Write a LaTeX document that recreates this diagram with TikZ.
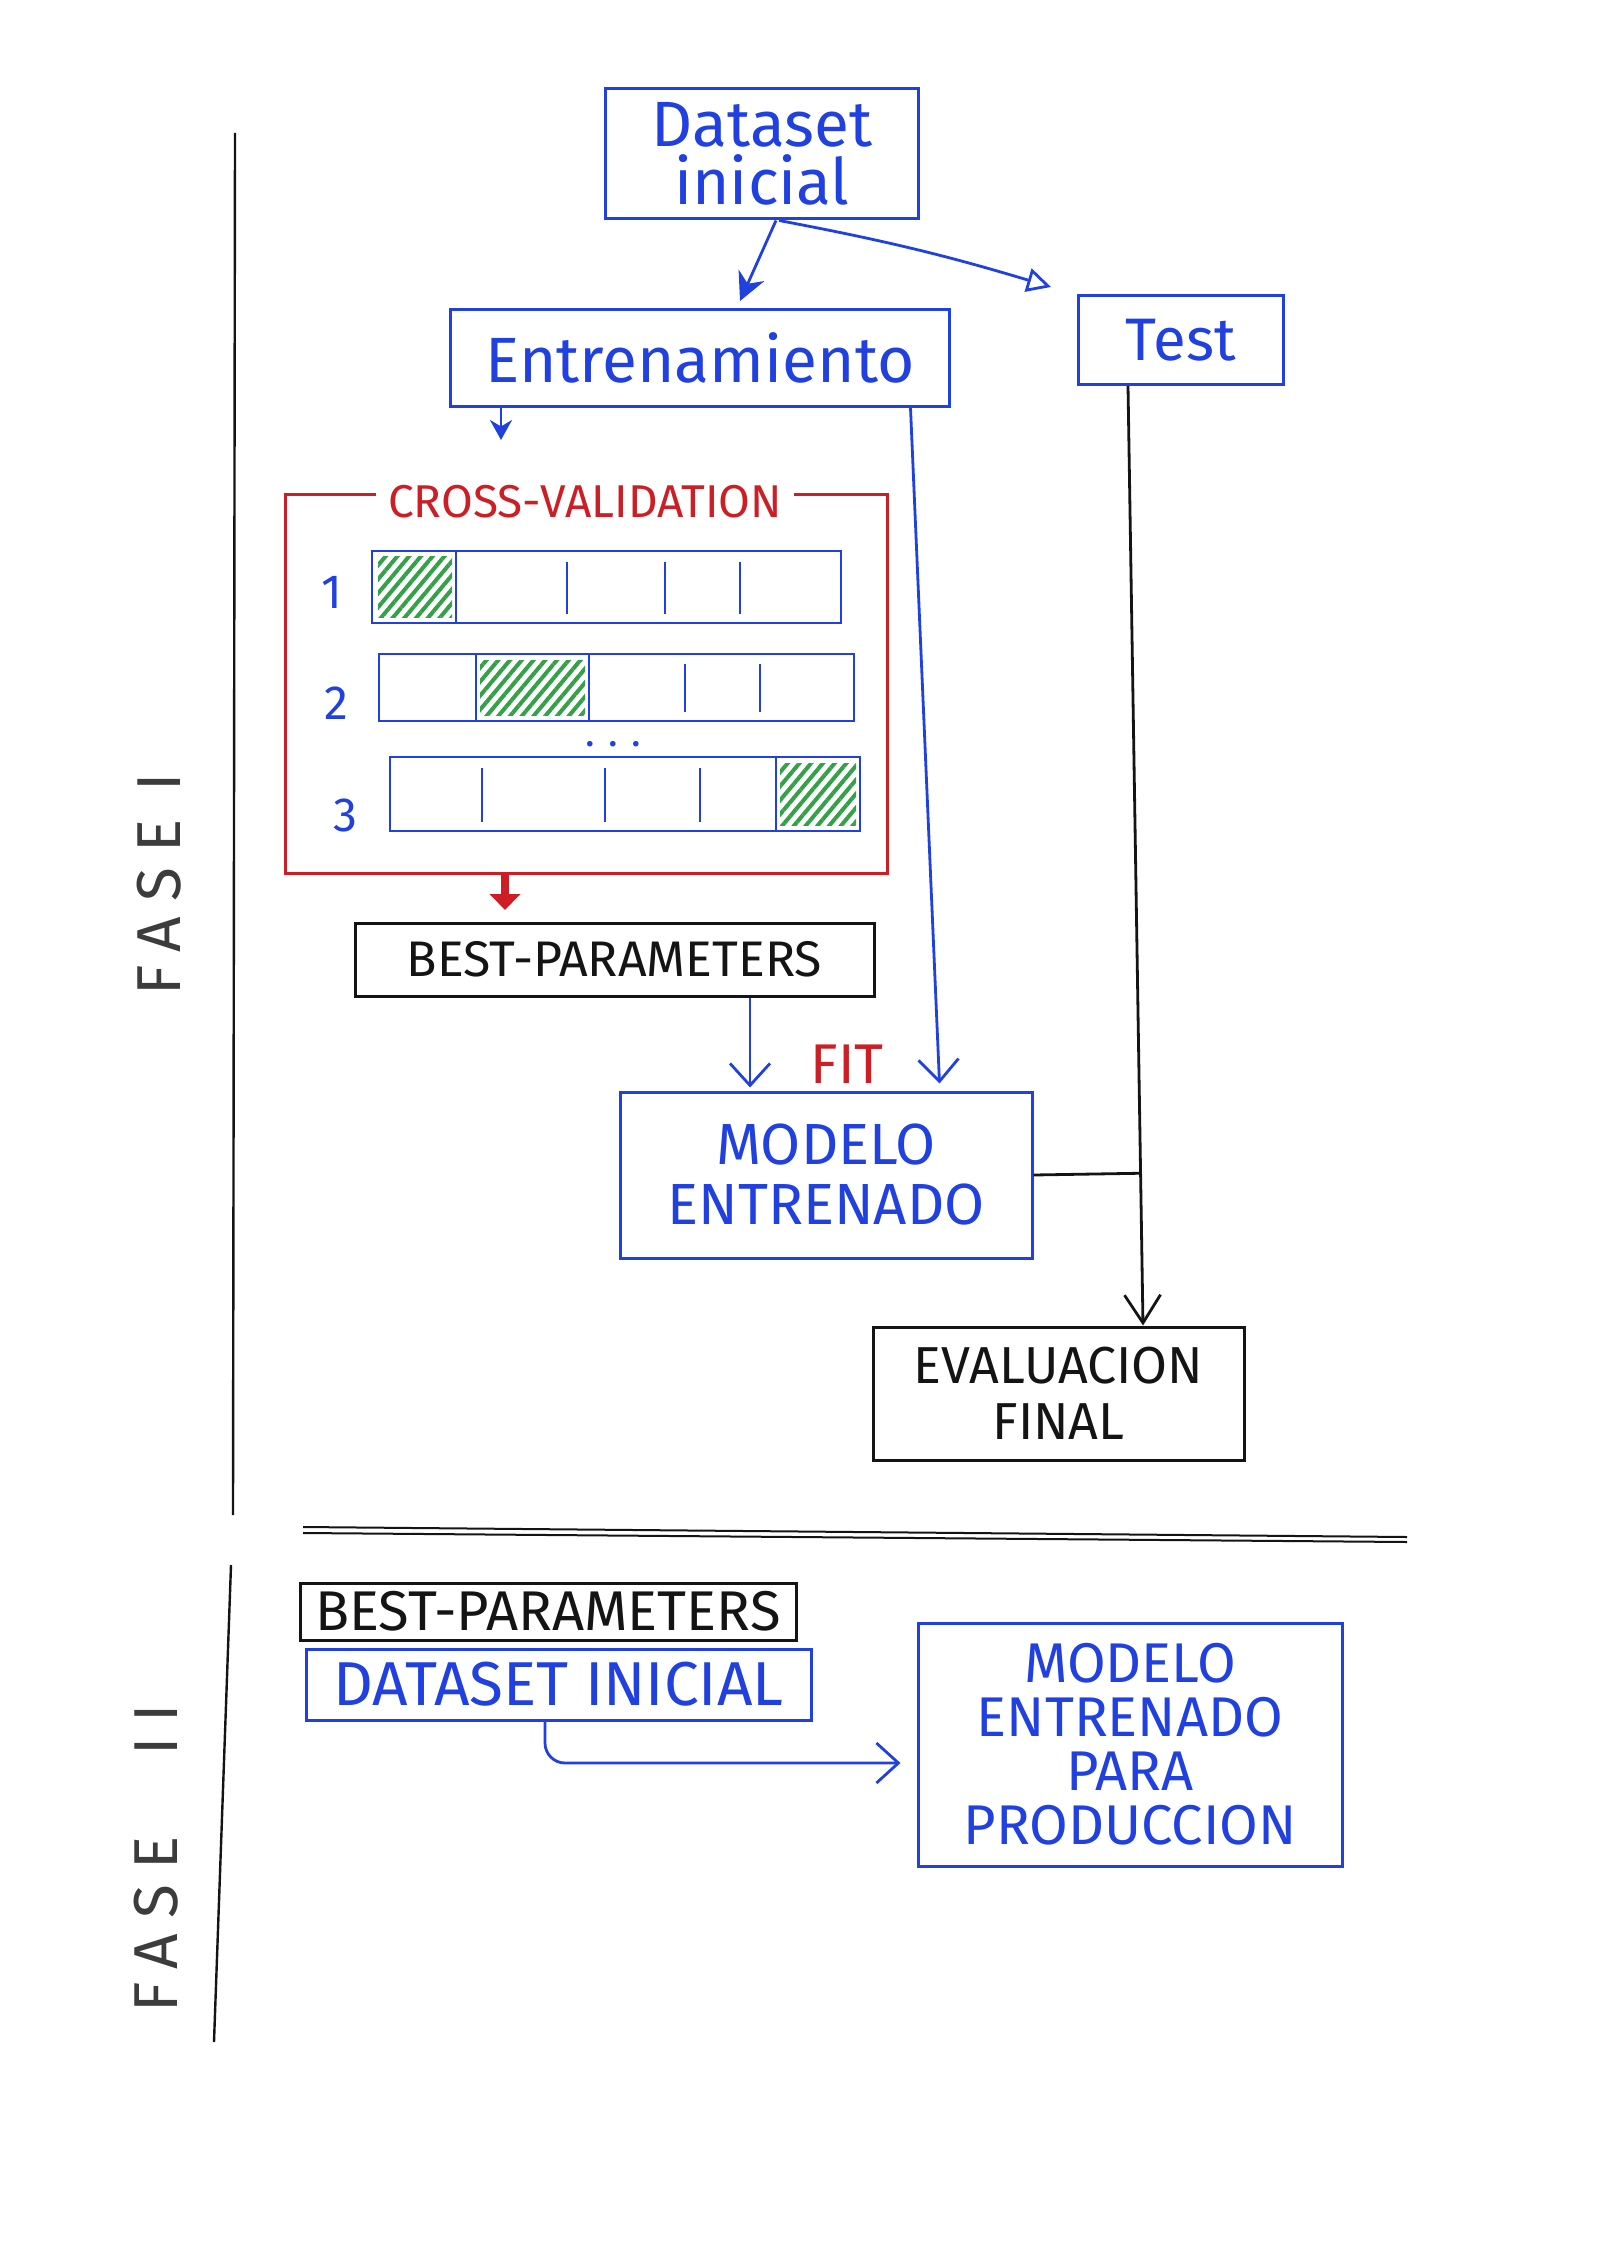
\documentclass[tikz,border=0pt]{standalone}
\usepackage{fontspec}
\setmainfont{Fira Sans}
\usetikzlibrary{arrows.meta,calc,patterns.meta}
\definecolor{pblue}{RGB}{32,64,224}
\definecolor{pred}{RGB}{204,30,36}
\definecolor{pgreen}{RGB}{52,160,72}
\definecolor{inkc}{RGB}{20,20,20}
\definecolor{fasec}{RGB}{60,60,60}
\begin{document}
\begin{tikzpicture}[x=0.5pt,y=-0.5pt,
  bbox/.style={draw=pblue,line width=1.5pt,text=pblue,align=center,inner sep=0pt},
  kbox/.style={draw=inkc,line width=1.5pt,text=inkc,align=center,inner sep=0pt},
  bline/.style={draw=pblue,line width=1.4pt},
  kline/.style={draw=inkc,line width=1.4pt},
  varrow/.style={-{Straight Barb[length=11pt,width=20pt]}},
  hatch/.style={pattern={Lines[angle=50,distance=4.5pt,line width=2pt]},pattern color=pgreen},
  fz/.style={font=\fontsize{#1}{#1}\selectfont}]
\fill[white] (0,0) rectangle (1600,2262);
\useasboundingbox (0,0) rectangle (1600,2262);

% ---- Phase I nodes
\node[bbox,minimum width=156.5pt,minimum height=65pt,font=\fontsize{32}{29}\selectfont] (dataset) at (762,154) {Dataset\\inicial};
\node[bbox,minimum width=249.5pt,minimum height=48.5pt,fz=32] (entren) at (700,358) {Entrenamiento};
\node[bbox,minimum width=102.5pt,minimum height=44.5pt,fz=30] (test) at (1181,340) {Test};

% cross-validation box
\node[minimum width=300.5pt,minimum height=189pt,inner sep=0pt] (cv) at (586.5,684) {};
\node[text=pred,fz=23,inner xsep=6pt,inner ysep=0pt] (cvt) at (585,502) {CROSS-VALIDATION};
\draw[draw=pred,line width=1.5pt] (cvt.west |- cv.north) -- (cv.north west) -- (cv.south west) -- (cv.south east) -- (cv.north east) -- (cvt.east |- cv.north);

% folds
\fill[hatch] (378,557) rectangle (452,617);
\fill[hatch] (480,660) rectangle (585,715);
\fill[hatch] (780,763) rectangle (856,825);
\draw[bline] (372,551) rectangle (841,623);
\draw[bline] (456,551) -- (456,623);
\draw[bline] (567,562) -- (567,614) (665,562) -- (665,614) (740,562) -- (740,614);
\draw[bline] (379,654) rectangle (854,721);
\draw[bline] (476,654) -- (476,721) (589,654) -- (589,721);
\draw[bline] (685,664) -- (685,712) (760,664) -- (760,712);
\draw[bline] (390,757) rectangle (860,831);
\draw[bline] (482,768) -- (482,822) (605,768) -- (605,822) (700,768) -- (700,822);
\draw[bline] (776,757) -- (776,831);
\node[text=pblue,fz=24] (n1) at (332,592) {1};
\node[text=pblue,fz=24] (n2) at (336,703) {2};
\node[text=pblue,fz=24] (n3) at (345,815) {3};
\node[text=pblue,fz=20] (dots) at (613,744) {.\,\,.\,\,.};

\node[kbox,minimum width=259.5pt,minimum height=36.5pt,fz=25] (best) at (614.5,959.5) {BEST-PARAMETERS};
\node[bbox,minimum width=206pt,minimum height=83pt,font=\fontsize{29}{30}\selectfont] (modelo) at (826,1175) {MODELO\\ENTRENADO};
\node[kbox,minimum width=185.5pt,minimum height=66.5pt,font=\fontsize{26}{28}\selectfont] (eval) at (1058.5,1393.5) {EVALUACION\\FINAL};
\node[text=pred,fz=28] (fit) at (847,1064) {FIT};

% connectors phase I
\draw[bline,-{Stealth[length=14pt,width=14pt]}] ([xshift=7pt]dataset.south) -- ([xshift=20pt,yshift=3.5pt]entren.north);
\draw[bline,-{Triangle[open,length=12pt,width=12pt]}] ([xshift=8.5pt]dataset.south) to[bend left=3] ([xshift=-13pt,yshift=3.5pt]test.north west);
\coordinate (cvin) at (501,440);
\draw[bline,-{Stealth[length=10pt,width=11pt]}] ([xshift=-99.5pt]entren.south) -- (cvin);
\coordinate (redend) at (505,910);
\draw[draw=pred,line width=4pt,-{Triangle[length=8pt,width=15pt]}] ([xshift=-40.75pt]cv.south) -- (redend);
\draw[bline,varrow] ([xshift=67.75pt]best.south) -- ([xshift=-38pt,yshift=1.5pt]modelo.north);
\draw[bline,varrow] ([xshift=-20.25pt]entren.south east) -- ([xshift=-47pt,yshift=3.5pt]modelo.north east);
\coordinate (tA) at ([xshift=-26.5pt]test.south);
\coordinate (tB) at ([xshift=42.25pt]eval.north);
\draw[kline,-{Straight Barb[length=14pt,width=18pt]}] (tA) -- (tB);
\draw[kline] (modelo.east) -- ($(tA)!(modelo.east)!(tB)$);

% phase separators
\draw[draw=inkc,line width=1.2pt] (235,133) -- (233,1515);
\draw[draw=inkc,line width=1pt] (303,1527) -- (1407,1537);
\draw[draw=inkc,line width=1pt] (303,1533) -- (1407,1542);
\draw[draw=inkc,line width=1.2pt] (231,1565) -- (214,2042);
\node[rotate=90,text=fasec,font=\fontsize{31}{31}\selectfont\addfontfeatures{LetterSpace=25}] (fase1) at (159,884) {FASE\hspace{14pt}I};
\node[rotate=90,text=fasec,font=\fontsize{31}{31}\selectfont\addfontfeatures{LetterSpace=25}] (fase2) at (156,1858) {FASE\hspace{40pt}II};

% ---- Phase II
\node[kbox,minimum width=248pt,minimum height=28.5pt,fz=28] (best2) at (548,1611.5) {BEST-PARAMETERS};
\node[bbox,minimum width=252.5pt,minimum height=35.5pt,fz=31] (data2) at (558.5,1684.5) {DATASET INICIAL};
\node[bbox,minimum width=212pt,minimum height=121.5pt,font=\fontsize{28}{27}\selectfont] (prod) at (1130,1744.5) {MODELO\\ENTRENADO\\PARA\\PRODUCCION};
\draw[bline,varrow,rounded corners=10pt] ([xshift=-6.75pt]data2.south) |- ([xshift=-8pt,yshift=-9.25pt]prod.west);
\end{tikzpicture}
\end{document}
